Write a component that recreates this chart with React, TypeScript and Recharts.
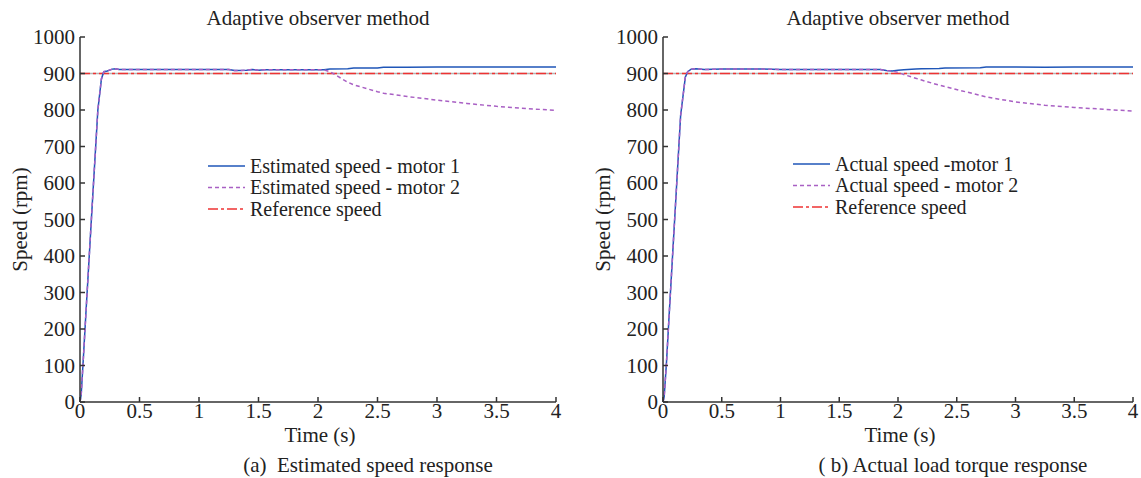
import React from 'react';
import { LineChart, Line, XAxis, YAxis, ReferenceLine } from 'recharts';

// panel (a): estimated speeds
const timeA = [0, 0.01, 0.03, 0.05, 0.1, 0.15, 0.18, 0.2, 0.23, 0.27, 0.3, 0.33, 0.6, 1.0, 1.25, 1.3, 1.4, 1.45, 1.5, 1.55, 1.7, 1.95, 2.05, 2.1, 2.25, 2.3, 2.5, 2.55, 2.75, 3.0, 3.25, 3.5, 3.75, 4.0];
const motor1A = [0, 20, 130, 245, 525, 800, 885, 905, 907, 912, 913, 911, 911, 911, 911, 908, 909, 911, 909, 910, 910, 910, 910, 912, 913, 915, 915, 917, 917, 918, 918, 918, 918, 918];
const motor2A = [0, 20, 130, 245, 525, 800, 885, 905, 907, 912, 913, 911, 911, 911, 911, 908, 909, 911, 909, 910, 910, 910, 910, 905, 876, 869, 850, 846, 837, 827, 818, 810, 804, 799];

// panel (b): actual speeds
const timeB = [0, 0.01, 0.03, 0.05, 0.1, 0.15, 0.19, 0.21, 0.24, 0.28, 0.35, 0.5, 0.85, 1.0, 1.5, 1.85, 1.9, 1.95, 2.0, 2.05, 2.15, 2.2, 2.35, 2.4, 2.7, 2.75, 3.0, 3.25, 3.5, 3.75, 4.0];
const motor1B = [0, 15, 110, 225, 505, 785, 890, 905, 912, 913, 911, 912, 912, 911, 911, 911, 908, 907, 909, 910, 912, 913, 914, 915, 916, 918, 918, 917, 918, 918, 918];
const motor2B = [0, 15, 110, 225, 505, 785, 890, 905, 912, 913, 911, 912, 912, 911, 911, 911, 908, 907, 903, 897, 887, 882, 868, 864, 840, 836, 822, 813, 807, 802, 797];

const REF_SPEED = 900;
const xTicks = [0, 0.5, 1, 1.5, 2, 2.5, 3, 3.5, 4];
const yTicks = [0, 100, 200, 300, 400, 500, 600, 700, 800, 900, 1000];

const legendA = ['Estimated speed - motor 1', 'Estimated speed - motor 2', 'Reference speed'];
const legendB = ['Actual speed -motor 1', 'Actual speed - motor 2', 'Reference speed'];

const FONT = '"Liberation Serif", "DejaVu Serif", serif';
const FS = 21;
const BLUE = '#1f56b8';
const PURPLE = '#a960c4';
const RED = '#ee3333';
const dashes = [undefined, '4 3', '10 3 3 3'];
const colors = [BLUE, PURPLE, RED];

function build(t: number[], m1: number[], m2: number[]) {
  return t.map((v, i) => ({ t: v, m1: m1[i], m2: m2[i], ref: REF_SPEED }));
}

function LegendBox({ labels, left, top }: { labels: string[]; left: number; top: number }) {
  const row = 21.5;
  return (
    <svg width={320} height={72} style={{ position: 'absolute', left, top, fontFamily: FONT, overflow: 'visible' }}>
      {labels.map((lab, i) => (
        <g key={lab}>
          <line x1={0} x2={37} y1={10 + i * row} y2={10 + i * row} stroke={colors[i]} strokeWidth={1.5} strokeDasharray={dashes[i]} />
          <text x={42} y={10 + i * row} dy="0.33em" fontSize={20} fill="#222">{lab}</text>
        </g>
      ))}
    </svg>
  );
}

interface PanelProps {
  left: number;
  width: number;
  axisW: number;
  marginRight: number;
  data: any[];
  labels: string[];
  legendLeft: number;
  legendTop: number;
  yLabelDx: number;
  caption: string;
  captionCenter: number;
}

function Panel(p: PanelProps) {
  const plotL = p.axisW;
  const plotR = p.width - p.marginRight;
  const center = (plotL + plotR) / 2;
  const textStyle = { fontFamily: FONT, fontSize: FS, fill: '#222' };
  return (
    <div style={{ position: 'absolute', left: p.left, top: 0, width: p.width, height: 478 }}>
      <div style={{ position: 'absolute', left: center - 150, width: 300, top: 6, textAlign: 'center', fontFamily: FONT, fontSize: FS, lineHeight: '24px', color: '#222' }}>
        Adaptive observer method
      </div>
      <LineChart width={p.width} height={478} data={p.data} margin={{ top: 37, right: p.marginRight, left: 0, bottom: 26 }}>
        <XAxis
          dataKey="t"
          type="number"
          domain={[0, 4]}
          ticks={xTicks}
          interval={0}
          height={50}
          tickSize={-5}
          tickMargin={6}
          stroke="#333"
          strokeWidth={1.5}
          tick={textStyle}
          label={{ value: 'Time (s)', position: 'center', dy: 8, dx: 2, style: textStyle }}
        />
        <YAxis
          type="number"
          domain={[0, 1000]}
          ticks={yTicks}
          interval={0}
          width={p.axisW}
          tickSize={-5}
          tickMargin={10}
          stroke="#333"
          strokeWidth={1.5}
          tick={textStyle}
          label={{ value: 'Speed (rpm)', angle: -90, position: 'center', dx: p.yLabelDx, style: textStyle }}
        />
        <ReferenceLine y={REF_SPEED} stroke="#b4b4b4" strokeWidth={1.5} />
        <Line type="linear" dataKey="ref" stroke={RED} strokeWidth={1.6} strokeDasharray={dashes[2]} dot={false} isAnimationActive={false} />
        <Line type="linear" dataKey="m1" stroke={BLUE} strokeWidth={1.5} dot={false} isAnimationActive={false} />
        <Line type="linear" dataKey="m2" stroke={PURPLE} strokeWidth={1.5} strokeDasharray={dashes[1]} dot={false} isAnimationActive={false} />
      </LineChart>
      <LegendBox labels={p.labels} left={p.legendLeft} top={p.legendTop} />
      <div style={{ position: 'absolute', left: p.captionCenter - 200, width: 400, top: 453, textAlign: 'center', fontFamily: FONT, fontSize: FS, lineHeight: '24px', color: '#222', whiteSpace: 'pre' }}>
        {p.caption}
      </div>
    </div>
  );
}

export default function App() {
  const dataA = build(timeA, motor1A, motor2A);
  const dataB = build(timeB, motor1B, motor2B);
  return (
    <div style={{ position: 'absolute', left: 0, top: 0, width: 1141, height: 478, background: '#fff' }}>
      <Panel left={0} width={570} axisW={80} marginRight={14} data={dataA} labels={legendA}
        legendLeft={208} legendTop={156} yLabelDx={-20} caption="(a)  Estimated speed response" captionCenter={368} />
      <Panel left={570} width={571} axisW={93} marginRight={8} data={dataB} labels={legendB}
        legendLeft={223} legendTop={154} yLabelDx={-14} caption="( b) Actual load torque response" captionCenter={383} />
    </div>
  );
}
